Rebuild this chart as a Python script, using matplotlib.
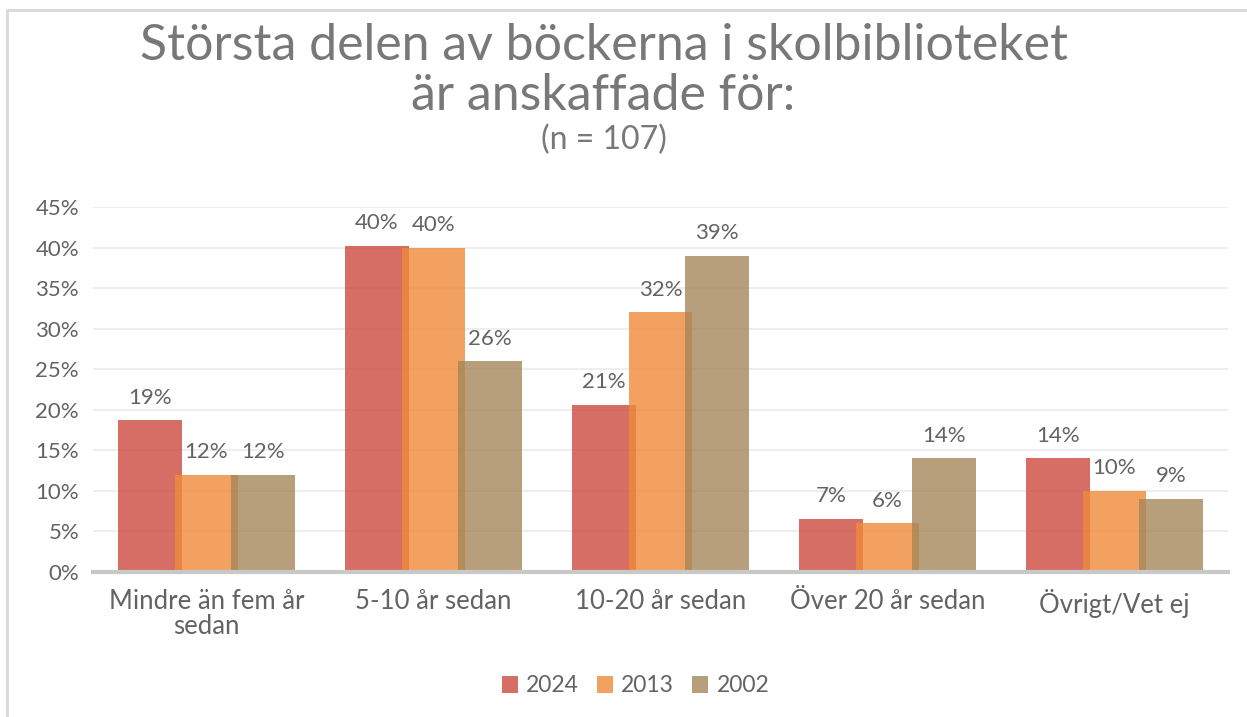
import numpy as np
import matplotlib
matplotlib.use("Agg")
import matplotlib.pyplot as plt
from matplotlib.patches import Rectangle

# data (share of respondents, n = 107)
categories = ["Mindre än fem år\nsedan", "5-10 år sedan", "10-20 år sedan",
              "Över 20 år sedan", "Övrigt/Vet ej"]
years = ["2024", "2013", "2002"]
v2024 = [0.187, 0.402, 0.206, 0.0654, 0.140]
v2013 = [0.12, 0.40, 0.32, 0.06, 0.10]
v2002 = [0.12, 0.26, 0.39, 0.14, 0.09]
yticks = [0, 0.05, 0.10, 0.15, 0.20, 0.25, 0.30, 0.35, 0.40, 0.45]

colors = ["#cc4a3e", "#f08a3a", "#a5875a"]
txt = "#636363"

plt.rcParams["font.family"] = ["Lato", "DejaVu Sans"]

fig = plt.figure(figsize=(12.47, 7.17), dpi=100)
ax = fig.add_axes([93 / 1247, 145 / 717, 1135 / 1247, 365 / 717])

x = np.arange(len(categories))
w = 0.28
offs = [-0.25, 0.0, 0.25]
for vals, off, c, lab in zip([v2024, v2013, v2002], offs, colors, years):
    bars = ax.bar(x + off, vals, w, color=c, alpha=0.8, label=lab, zorder=2)
    for b, v in zip(bars, vals):
        ax.annotate("%.0f%%" % (v * 100), (b.get_x() + b.get_width() / 2, v),
                    xytext=(0, 9), textcoords="offset points", ha="center",
                    va="bottom", fontsize=16, color=txt)

ax.set_xlim(-0.5, len(categories) - 0.5)
ax.set_ylim(0, 0.45)
ax.set_yticks(yticks)
ax.set_yticklabels(["%d%%" % round(t * 100) for t in yticks], fontsize=16, color=txt)
ax.set_xticks(x)
ax.set_xticklabels(categories, fontsize=18.5, color=txt, linespacing=1.0)
ax.tick_params(length=0, pad=10)
ax.tick_params(axis="x", pad=12)
ax.grid(axis="y", color="#ebebeb", lw=1.2, zorder=0)
for s in ["left", "right", "top"]:
    ax.spines[s].set_visible(False)
ax.spines["bottom"].set_color("#c8c8c8")
ax.spines["bottom"].set_linewidth(3)
ax.spines["bottom"].set_zorder(3)

fig.text(0.484, 0.917, "Största delen av böckerna i skolbiblioteket", ha="center",
         va="baseline", fontsize=36, color="#787878")
fig.text(0.484, 0.847, "är anskaffade för:", ha="center", va="baseline",
         fontsize=36, color="#787878")
fig.text(0.484, 0.805, "(n = 107)", ha="center", va="center", fontsize=23,
         color="#787878")

ax.legend(loc="center", bbox_to_anchor=(0.478, (717 - 686 - 145) / 365),
          ncol=3, frameon=False, fontsize=16.5, handlelength=0.7, handleheight=0.7,
          handletextpad=0.35, columnspacing=0.8, labelcolor=txt)

fig.patches.append(Rectangle((7 / 1247, -0.1), 1.2, 1 - 10 / 717 + 0.1,
                             transform=fig.transFigure, fill=False,
                             edgecolor="#d9d9d9", lw=2))

fig.savefig("out.png", dpi=100)
